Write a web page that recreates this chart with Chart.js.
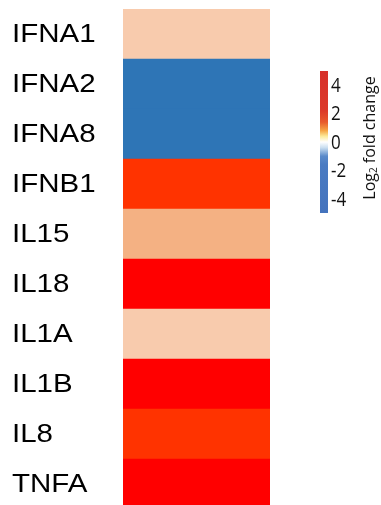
<!DOCTYPE html>
<html>
<head>
<meta charset="utf-8">
<script src="https://cdn.jsdelivr.net/npm/chart.js@4/dist/chart.umd.min.js"></script>
<style>
  html, body { margin: 0; padding: 0; background: #fff; overflow: hidden; }
  #wrap { position: relative; width: 381px; height: 510px; }
</style>
</head>
<body>
<div id="wrap"><canvas id="heat"></canvas></div>
<script>
// genes (rows, top to bottom)
const genes = ['IFNA1', 'IFNA2', 'IFNA8', 'IFNB1', 'IL15', 'IL18', 'IL1A', 'IL1B', 'IL8', 'TNFA'];
// log2 fold change per gene
const foldChange = [1.0, -4.2, -4.0, 3.2, 1.6, 4.5, 1.1, 4.6, 3.4, 4.3];
// colour bar
const barTicks = [4, 2, 0, -2, -4];
const barMin = -5;
const barMax = 5;

// cell colour for a value
function cellColor(v) {
  if (v <= -2) return '#2E75B6';
  if (v >= 4) return '#FF0000';
  if (v >= 3) return '#FF3300';
  if (v >= 1.5) return '#F4B183';
  return '#F8CBAD';
}

// gene names, slightly stretched like the original
const rowLabels = {
  id: 'rowLabels',
  afterDraw(chart) {
    const ctx = chart.ctx;
    const y = chart.scales.y;
    ctx.save();
    ctx.fillStyle = '#000';
    ctx.font = '25px "Liberation Sans", Arial, sans-serif';
    ctx.textAlign = 'left';
    ctx.textBaseline = 'middle';
    genes.forEach(function (g, i) {
      ctx.save();
      ctx.translate(12, y.getPixelForValue(i) + 1);
      ctx.scale(1.18, 1);
      ctx.fillText(g, 0, 0);
      ctx.restore();
    });
    ctx.restore();
  }
};

// colour bar legend at right
const colorBar = {
  id: 'colorBar',
  afterDraw(chart) {
    const ctx = chart.ctx;
    const x = 320, w = 8, top = 71, bottom = 213;
    const yOf = function (v) { return bottom - (v - barMin) / (barMax - barMin) * (bottom - top); };
    const grad = ctx.createLinearGradient(0, top, 0, bottom);
    grad.addColorStop(0, '#D7302A');
    grad.addColorStop(0.28, '#DC3A2A');
    grad.addColorStop(0.36, '#E85A2C');
    grad.addColorStop(0.42, '#F6A645');
    grad.addColorStop(0.46, '#FCEB9A');
    grad.addColorStop(0.50, '#FFFFFF');
    grad.addColorStop(0.54, '#C9DEF0');
    grad.addColorStop(0.60, '#5A8ACA');
    grad.addColorStop(0.66, '#4A7BC2');
    grad.addColorStop(1, '#4473BD');
    ctx.save();
    ctx.fillStyle = grad;
    ctx.fillRect(x, top, w, bottom - top);

    ctx.fillStyle = '#111';
    ctx.font = '20px "Open Sans"';
    ctx.textAlign = 'left';
    ctx.textBaseline = 'middle';
    barTicks.forEach(function (t) {
      ctx.save();
      ctx.translate(331, yOf(t) + 1);
      ctx.scale(0.85, 1);
      ctx.fillText(String(t), 0, 0);
      ctx.restore();
    });

    // rotated title with subscript
    ctx.translate(370, 138);
    ctx.rotate(-Math.PI / 2);
    ctx.textBaseline = 'middle';
    ctx.font = '16px "Open Sans"';
    const a = 'Log', b = '2', c = ' fold change';
    const wa = ctx.measureText(a).width, wc = ctx.measureText(c).width;
    ctx.font = '10px "Open Sans"';
    const wb = ctx.measureText(b).width;
    let sx = -(wa + wb + wc) / 2;
    ctx.font = '16px "Open Sans"';
    ctx.fillText(a, sx, 0);
    ctx.font = '10px "Open Sans"';
    ctx.fillText(b, sx + wa, 4);
    ctx.font = '16px "Open Sans"';
    ctx.fillText(c, sx + wa + wb, 0);
    ctx.restore();
  }
};

new Chart(document.getElementById('heat'), {
  type: 'bar',
  data: {
    labels: genes,
    datasets: [{
      data: genes.map(function () { return 1; }),
      backgroundColor: foldChange.map(cellColor),
      borderWidth: 0,
      barPercentage: 1,
      categoryPercentage: 1
    }]
  },
  options: {
    indexAxis: 'y',
    responsive: true,
    maintainAspectRatio: false,
    animation: false,
    layout: { padding: { left: 12, top: 9, right: 111, bottom: 1 } },
    plugins: { legend: { display: false }, tooltip: { enabled: false } },
    scales: {
      x: { min: 0, max: 1, display: false },
      y: {
        grid: { display: false, drawTicks: false },
        border: { display: false },
        ticks: { display: false },
        afterFit: function (scale) {
          scale.width = 111;
          scale.paddingTop = 0;
          scale.paddingBottom = 0;
        }
      }
    }
  },
  plugins: [rowLabels, colorBar]
});
</script>
</body>
</html>
